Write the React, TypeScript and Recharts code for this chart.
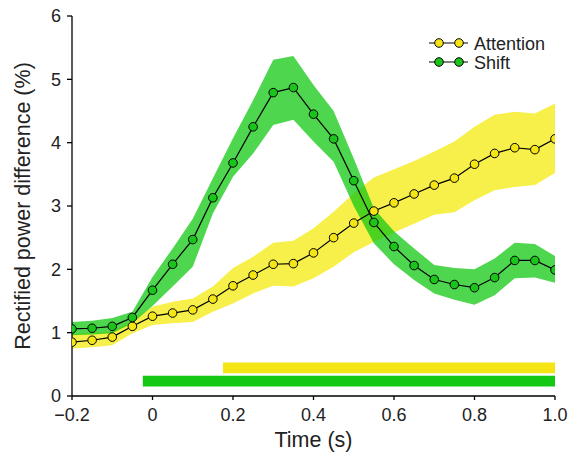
import React from "react";
import {
  Area,
  ComposedChart,
  Legend,
  Line,
  ReferenceArea,
  XAxis,
  YAxis,
} from "recharts";

// time points (s)
const times = [
  -0.2, -0.15, -0.1, -0.05, 0, 0.05, 0.1, 0.15, 0.2, 0.25, 0.3, 0.35, 0.4,
  0.45, 0.5, 0.55, 0.6, 0.65, 0.7, 0.75, 0.8, 0.85, 0.9, 0.95, 1.0,
];

// Attention (yellow)
const attention = [
  0.85, 0.88, 0.93, 1.1, 1.26, 1.31, 1.36, 1.53, 1.74, 1.91, 2.08, 2.09, 2.26,
  2.5, 2.73, 2.92, 3.05, 3.19, 3.33, 3.44, 3.66, 3.83, 3.92, 3.89, 4.06,
];
const attentionHi = [
  0.98, 1.0, 1.02, 1.2, 1.41, 1.49, 1.54, 1.73, 2.02, 2.2, 2.42, 2.45, 2.65,
  2.91, 3.2, 3.45, 3.58, 3.71, 3.86, 4.02, 4.25, 4.44, 4.49, 4.46, 4.62,
];
const attentionLo = [
  0.75, 0.77, 0.8, 0.99, 1.12, 1.15, 1.17, 1.33, 1.46, 1.62, 1.74, 1.73, 1.86,
  2.04, 2.27, 2.43, 2.58, 2.72, 2.86, 2.9, 3.09, 3.25, 3.3, 3.33, 3.52,
];

// Shift (green)
const shift = [
  1.06, 1.07, 1.1, 1.24, 1.67, 2.08, 2.47, 3.13, 3.68, 4.25, 4.79, 4.87, 4.45,
  4.06, 3.4, 2.74, 2.36, 2.06, 1.84, 1.76, 1.71, 1.87, 2.14, 2.14, 1.99,
];
const shiftHi = [
  1.17, 1.19, 1.23, 1.33, 1.88, 2.33, 2.8, 3.44, 4.07, 4.67, 5.31, 5.37, 4.91,
  4.5, 3.75, 2.96, 2.6, 2.33, 2.07, 2.02, 2.0, 2.17, 2.42, 2.4, 2.21,
];
const shiftLo = [
  0.96, 0.97, 0.99, 1.15, 1.42, 1.73, 2.04, 2.88, 3.46, 3.83, 4.28, 4.36, 4.02,
  3.7, 3.0, 2.41, 2.08, 1.83, 1.62, 1.52, 1.44, 1.59, 1.86, 1.87, 1.79,
];

// significance windows (start, end) in s
const attentionSig = [0.175, 1.0];
const shiftSig = [-0.024, 1.0];

const xTicks = [-0.2, 0, 0.2, 0.4, 0.6, 0.8, 1.0];
const xTopTicks = [-0.1, 0.2, 0.4, 0.6, 0.8];
const yTicks = [0, 1, 2, 3, 4, 5, 6];

const YELLOW = "#f5e514";
const YELLOW_BAND = "#f7f04b";
const GREEN = "#1bc41b";
const GREEN_BAND = "#14c814";
const FONT = "'Liberation Sans', Arial, Helvetica, sans-serif";
const TEXT = "#222";

const rows = times.map((t, i) => ({
  t,
  attention: attention[i],
  attentionBand: [attentionLo[i], attentionHi[i]],
  shift: shift[i],
  shiftBand: [shiftLo[i], shiftHi[i]],
}));

const fmtX = (v: number) => {
  if (v === 0) return "0";
  if (v < 0) return "\u2212" + Math.abs(v).toFixed(1);
  return v.toFixed(1);
};

const legendItems = [
  { name: "Attention", color: YELLOW },
  { name: "Shift", color: GREEN },
];

function LegendBox() {
  return (
    <svg width={130} height={40} style={{ display: "block" }}>
      {legendItems.map((item, i) => {
        const cy = 10 + i * 19;
        return (
          <g key={item.name}>
            <line x1={0} x2={39} y1={cy} y2={cy} stroke="#000" strokeWidth={1.2} />
            <circle cx={10} cy={cy} r={4.3} fill={item.color} stroke="#000" strokeWidth={1} />
            <circle cx={30} cy={cy} r={4.3} fill={item.color} stroke="#000" strokeWidth={1} />
            <text x={45} y={cy + 6.5} fontSize={18} fontFamily={FONT} fill={TEXT}>
              {item.name}
            </text>
          </g>
        );
      })}
    </svg>
  );
}

export default function App() {
  const tickStyle = { fontSize: 18, fontFamily: FONT, fill: TEXT };
  return (
    <div style={{ position: "absolute", left: 0, top: 0, background: "#fff" }}>
      <ComposedChart
        width={570}
        height={456}
        data={rows}
        margin={{ top: 16, right: 15, bottom: 0, left: 0 }}
      >
        <XAxis
          dataKey="t"
          type="number"
          domain={[-0.2, 1.0]}
          ticks={xTicks}
          tickFormatter={fmtX}
          tick={tickStyle}
          tickSize={4}
          tickMargin={8}
          height={60}
          axisLine={{ stroke: "#000", strokeWidth: 1.3 }}
          tickLine={{ stroke: "#000", strokeWidth: 1.3 }}
          allowDataOverflow
          label={{
            value: "Time (s)",
            position: "insideBottom",
            offset: 9,
            style: { fontSize: 21.5, fontFamily: FONT, fill: TEXT },
          }}
        />
        <XAxis
          xAxisId="top"
          orientation="top"
          dataKey="t"
          type="number"
          domain={[-0.2, 1.0]}
          ticks={xTopTicks}
          tick={false}
          tickSize={5}
          height={0}
          axisLine={{ stroke: "#000", strokeWidth: 1.3 }}
          tickLine={{ stroke: "#000", strokeWidth: 1.3 }}
        />
        <YAxis
          type="number"
          domain={[0, 6]}
          ticks={yTicks}
          tick={tickStyle}
          tickSize={5}
          tickMargin={6}
          width={72}
          axisLine={{ stroke: "#000", strokeWidth: 1.3 }}
          tickLine={{ stroke: "#000", strokeWidth: 1.3 }}
          label={{
            value: "Rectified power difference (%)",
            angle: -90,
            position: "center",
            dx: -14,
            style: { fontSize: 21.5, fontFamily: FONT, fill: TEXT, textAnchor: "middle" },
          }}
        />
        <YAxis
          yAxisId="right"
          orientation="right"
          type="number"
          domain={[0, 6]}
          ticks={yTicks}
          tick={false}
          tickSize={5}
          width={0}
          axisLine={{ stroke: "#000", strokeWidth: 1.3 }}
          tickLine={{ stroke: "#000", strokeWidth: 1.3 }}
        />

        <ReferenceArea
          x1={attentionSig[0]}
          x2={attentionSig[1]}
          y1={0.36}
          y2={0.53}
          fill={YELLOW}
          fillOpacity={1}
          stroke="none"
        />
        <ReferenceArea
          x1={shiftSig[0]}
          x2={shiftSig[1]}
          y1={0.15}
          y2={0.32}
          fill={GREEN_BAND}
          fillOpacity={1}
          stroke="none"
        />

        <Area
          dataKey="attentionBand"
          type="linear"
          fill={YELLOW_BAND}
          fillOpacity={1}
          stroke="none"
          isAnimationActive={false}
          activeDot={false}
        />
        <Line
          dataKey="attention"
          type="linear"
          stroke="#000"
          strokeWidth={1.2}
          dot={{ r: 4.3, fill: YELLOW, stroke: "#000", strokeWidth: 1 }}
          activeDot={false}
          isAnimationActive={false}
        />
        <Area
          dataKey="shiftBand"
          type="linear"
          fill={GREEN_BAND}
          fillOpacity={0.75}
          stroke="none"
          isAnimationActive={false}
          activeDot={false}
        />
        <Line
          dataKey="shift"
          type="linear"
          stroke="#000"
          strokeWidth={1.2}
          dot={{ r: 4.3, fill: GREEN, stroke: "#000", strokeWidth: 1 }}
          activeDot={false}
          isAnimationActive={false}
        />
        <Legend
          layout="horizontal"
          verticalAlign="middle"
          align="center"
          content={() => <LegendBox />}
          wrapperStyle={{ left: 429, top: 33, width: 130 }}
        />
      </ComposedChart>
    </div>
  );
}
